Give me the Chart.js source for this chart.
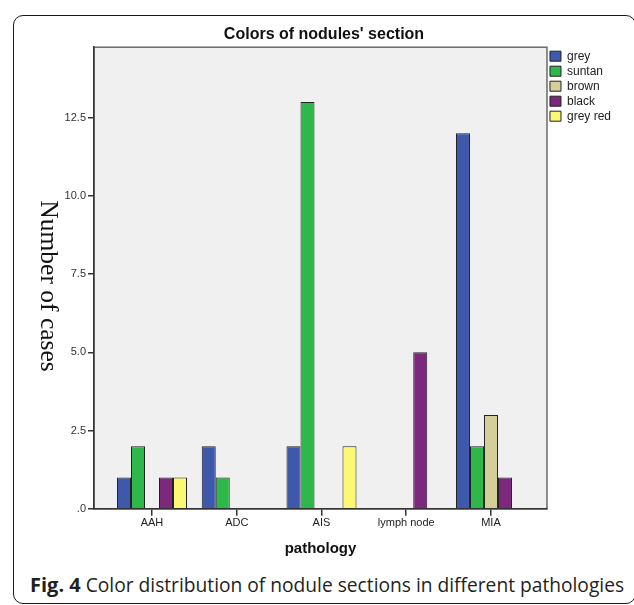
<!DOCTYPE html>
<html>
<head>
<meta charset="utf-8">
<script src="https://cdn.jsdelivr.net/npm/chart.js@4.4.1/dist/chart.umd.min.js"></script>
<style>
  html, body { margin: 0; padding: 0; background: #fff; }
  #wrap { position: relative; width: 634px; height: 605px; overflow: hidden; }
  #frame {
    position: absolute; left: 13px; top: 15px; width: 623px; height: 589px;
    border: 1.5px solid #1a1a1a; border-radius: 10px; box-sizing: border-box;
  }
  #chart-box { position: absolute; left: 0; top: 0; width: 634px; height: 565px; }
  #caption {
    position: absolute; left: 30px; top: 575px; line-height: 20px;
    font-family: "Open Sans", sans-serif; font-size: 19.2px; color: #231f20; white-space: nowrap;
  }
  #caption b { font-weight: 700; font-size: 20px; }
</style>
</head>
<body>
<div id="wrap">
  <div id="frame"></div>
  <div id="chart-box"><canvas id="chart"></canvas></div>
  <div id="caption"><b>Fig. 4</b> Color distribution of nodule sections in different pathologies</div>
</div>
<script>
// values
const categories = ['AAH', 'ADC', 'AIS', 'lymph node', 'MIA'];
const grey    = [1, 2, 2, 0, 12];
const suntan  = [2, 1, 13, 0, 2];
const brown   = [0, 0, 0, 0, 3];
const black   = [1, 0, 0, 5, 1];
const greyRed = [1, 0, 2, 0, 0];

const yTicks = [0, 2.5, 5, 7.5, 10, 12.5];
const yTickLabels = ['.0', '2.5', '5.0', '7.5', '10.0', '12.5'];
const yMax = 14.75;

const chartTitle = "Colors of nodules' section";
const xTitle = 'pathology';
const yTitle = 'Number of cases';

Chart.defaults.font.family = 'Arial, "Liberation Sans", sans-serif';
Chart.defaults.color = '#222';

function series(label, values, color) {
  return {
    label,
    data: values.map((v, i) => ({ x: i, y: v })),
    backgroundColor: color,
    borderColor: '#222',
    borderWidth: 1,
    categoryPercentage: 0.826,
    barPercentage: 1
  };
}

// grey panel + frame, and the sideways serif y title like SPSS draws it
const plotFrame = {
  id: 'plotFrame',
  beforeDraw(chart) {
    const { ctx, chartArea: a } = chart;
    ctx.save();
    ctx.fillStyle = '#f0f0f0';
    ctx.fillRect(a.left, a.top, a.right - a.left, a.bottom - a.top);
    ctx.strokeStyle = '#6a6a6a';
    ctx.lineWidth = 1.5;
    ctx.strokeRect(a.left, a.top, a.right - a.left, a.bottom - a.top);
    ctx.restore();
  },
  afterDraw(chart) {
    const ctx = chart.ctx;
    ctx.save();
    ctx.translate(48, 286);
    ctx.rotate(Math.PI / 2);
    ctx.font = '25.5px "Liberation Serif", "Times New Roman", serif';
    ctx.fillStyle = '#111';
    ctx.textAlign = 'center';
    ctx.textBaseline = 'middle';
    ctx.fillText(yTitle, 0, 0);
    ctx.restore();
  }
};

const n = categories.length;
const left = (94 - 152) / 84.75;
const right = (n - 1) + (547 - 491) / 84.75;

new Chart(document.getElementById('chart'), {
  type: 'bar',
  data: {
    datasets: [
      series('grey', grey, '#3e58ac'),
      series('suntan', suntan, '#2fb84a'),
      series('brown', brown, '#d4cf98'),
      series('black', black, '#7c287d'),
      series('grey red', greyRed, '#fbf873')
    ]
  },
  options: {
    responsive: true,
    maintainAspectRatio: false,
    animation: false,
    layout: { padding: { left: 27, right: 13, top: 10, bottom: 5 } },
    plugins: {
      title: {
        display: true,
        text: chartTitle,
        font: { size: 16, weight: 'bold' },
        color: '#111',
        padding: { top: 15, bottom: 3 }
      },
      legend: {
        position: 'right',
        align: 'start',
        fullSize: false,
        labels: {
          boxWidth: 11,
          boxHeight: 10,
          padding: 3,
          font: { size: 12 },
          color: '#222'
        }
      },
      tooltip: { enabled: false }
    },
    scales: {
      x: {
        type: 'linear',
        min: left,
        max: right,
        offset: false,
        afterBuildTicks: s => { s.ticks = categories.map((_, i) => ({ value: i })); },
        ticks: {
          callback: v => categories[v],
          font: { size: 11 },
          color: '#222',
          padding: 1,
          maxRotation: 0,
          autoSkip: false
        },
        grid: { offset: false, drawOnChartArea: false, drawTicks: true, tickLength: 7, color: '#333', lineWidth: 1.5 },
        border: { display: true, color: '#333', width: 1.5 },
        title: {
          display: true,
          text: xTitle,
          font: { size: 15, weight: 'bold' },
          color: '#111',
          padding: { top: 9, bottom: 2 }
        }
      },
      y: {
        min: 0,
        max: yMax,
        afterFit: s => { s.width = 67; },
        afterBuildTicks: s => { s.ticks = yTicks.map(v => ({ value: v })); },
        ticks: {
          callback: (v, i) => yTickLabels[i],
          font: { size: 11 },
          color: '#333',
          padding: 2
        },
        grid: { drawOnChartArea: false, drawTicks: true, tickLength: 6, color: '#333', lineWidth: 1.5 },
        border: { display: true, color: '#333', width: 1.5 }
      }
    }
  },
  plugins: [plotFrame]
});
</script>
</body>
</html>
